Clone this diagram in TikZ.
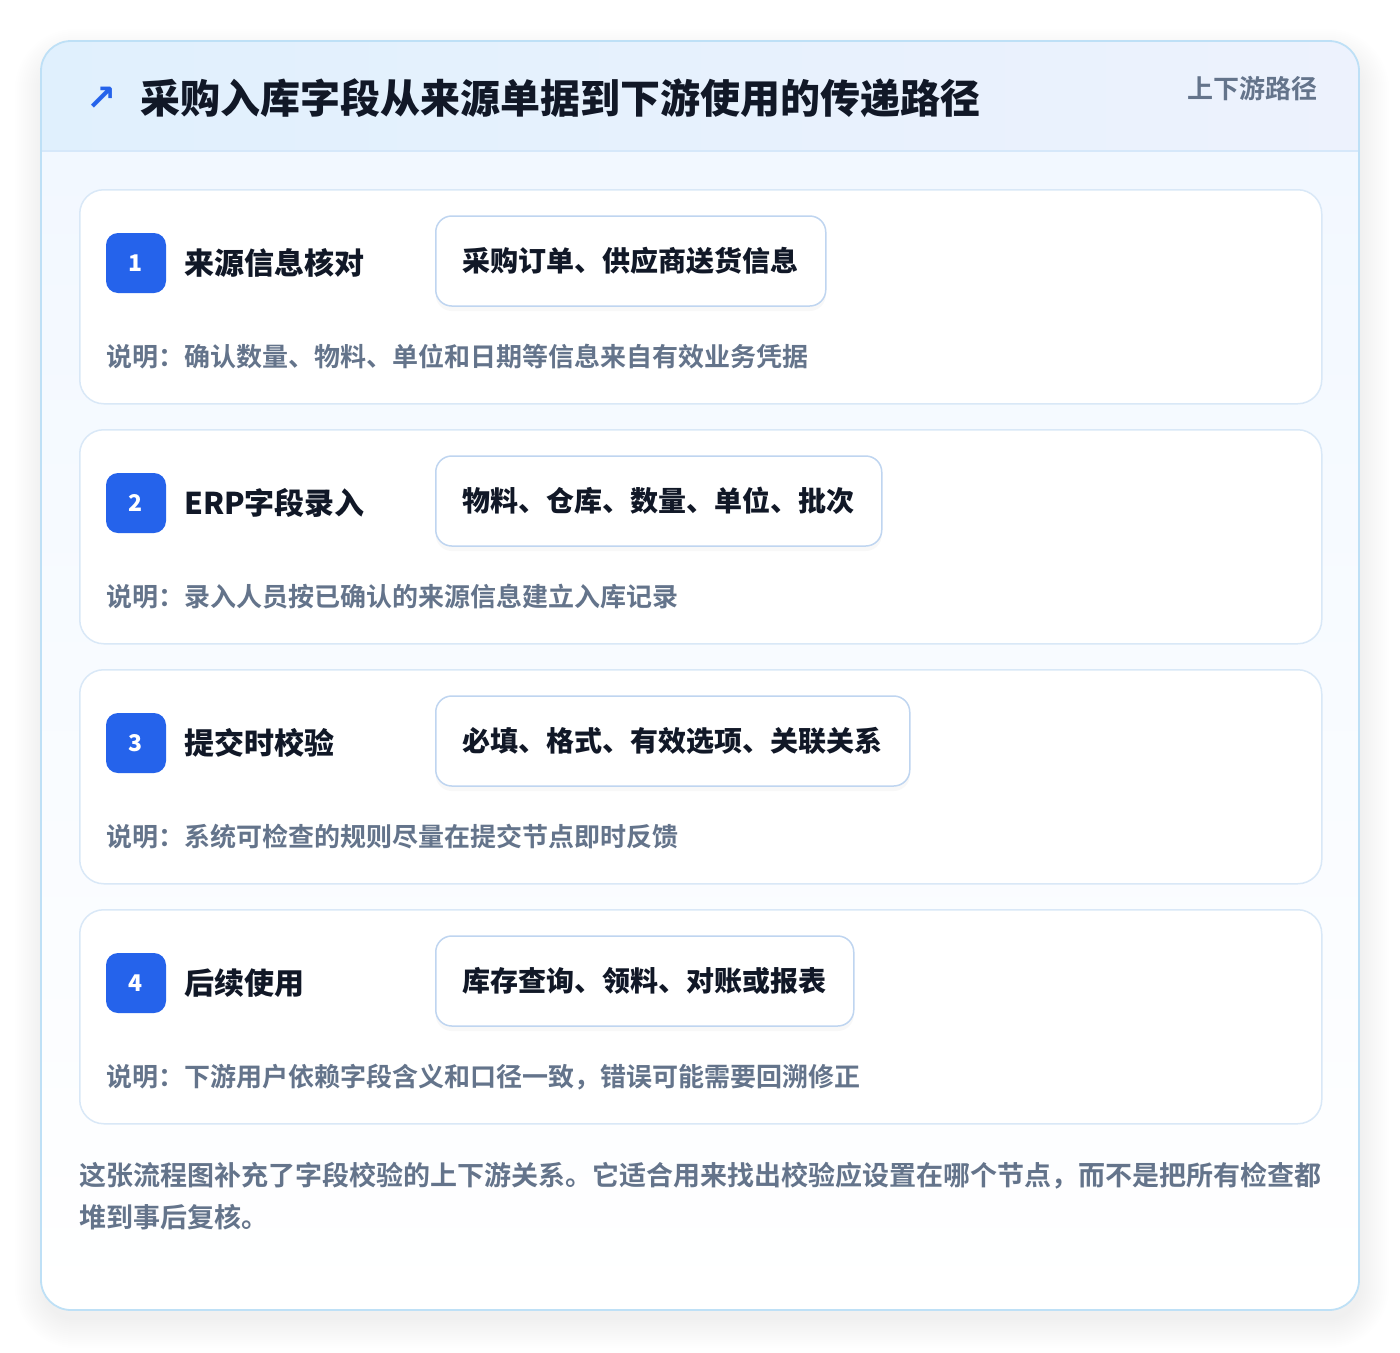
\documentclass[tikz,border=0pt]{standalone}
\usepackage{fontspec}
\setmainfont{Noto Sans CJK SC}[BoldFont={Noto Sans CJK SC Bold}]
\newfontfamily\heavyfont{Noto Sans CJK SC Black}
\newfontfamily\symfont{DejaVu Sans}
\usetikzlibrary{shadows}

\definecolor{brandblue}{HTML}{2563EB}
\definecolor{inkdark}{HTML}{111827}
\definecolor{inkgray}{HTML}{64748B}
\definecolor{edgesky}{HTML}{BEE0F6}
\definecolor{edgecard}{HTML}{D9E8F7}
\definecolor{edgefield}{HTML}{BFD5F0}
\definecolor{headleft}{HTML}{E0F0FD}
\definecolor{headright}{HTML}{EDF2FD}
\definecolor{headrule}{HTML}{D6E8FA}
\definecolor{bodytop}{HTML}{F2F8FF}

\tikzset{
  outercard/.style={draw=edgesky, line width=1.8pt, rounded corners=30pt},
  stepcard/.style={draw=edgecard, line width=1.5pt, fill=white, rounded corners=24pt,
    minimum width=1242pt, minimum height=214pt, anchor=north west, inner sep=0pt},
  badge/.style={fill=brandblue, rounded corners=12pt, minimum width=60pt, minimum height=60pt,
    inner sep=0pt, text=white, font=\heavyfont\fontsize{23}{23}\selectfont},
  steptitle/.style={anchor=west, inner sep=0pt, text=inkdark, font=\heavyfont\fontsize{30}{30}\selectfont},
  fieldbox/.style={anchor=west, draw=edgefield, line width=1.5pt, fill=white, rounded corners=16pt,
    minimum height=90pt, inner xsep=27pt, inner ysep=0pt, text=inkdark,
    font=\heavyfont\fontsize{28}{28}\selectfont,
    drop shadow={opacity=0.05, shadow xshift=0pt, shadow yshift=-5pt}},
  stepnote/.style={anchor=west, inner sep=0pt, text=inkgray, font=\fontsize{26}{26}\selectfont\bfseries},
}

\begin{document}
\begin{tikzpicture}[x=1pt, y=-1pt]
\useasboundingbox (0,0) rectangle (1400,1352);
\fill[white] (0,0) rectangle (1400,1352);
% soft shadow round the card
\foreach \s in {2,4,...,30}
  \fill[black, opacity=0.005, rounded corners=30pt+\s] (41-\s+4,41-\s+18) rectangle (1359+\s,1310+\s+8);
\begin{scope}
\clip[rounded corners=30pt] (41,41) rectangle (1359,1310);
\shade[top color=bodytop, bottom color=white] (41,151) rectangle (1359,1310);
\shade[left color=headleft, right color=headright] (41,41) rectangle (1359,151);
\draw[headrule, line width=1.5pt] (41,151) -- (1359,151);
\end{scope}
\draw[outercard] (41,41) rectangle (1359,1310);
% header
\node (icon) [anchor=center, inner sep=0pt, text=brandblue, font=\symfont\bfseries\fontsize{36}{36}\selectfont] at (102,99) {↗};
\node (heading) [anchor=west, inner sep=0pt, text=inkdark, font=\heavyfont\fontsize{40}{40}\selectfont] at (140,98) {采购入库字段从来源单据到下游使用的传递路径};
\node (tag) [anchor=east, inner sep=0pt, text=inkgray, font=\fontsize{26}{26}\selectfont\bfseries] at (1318,89) {上下游路径};
% steps
\foreach \n/\steplabel/\fieldtext/\notetext in {
  1/{来源信息核对}/{采购订单、供应商送货信息}/{说明：确认数量、物料、单位和日期等信息来自有效业务凭据},
  2/{ERP字段录入}/{物料、仓库、数量、单位、批次}/{说明：录入人员按已确认的来源信息建立入库记录},
  3/{提交时校验}/{必填、格式、有效选项、关联关系}/{说明：系统可检查的规则尽量在提交节点即时反馈},
  4/{后续使用}/{库存查询、领料、对账或报表}/{说明：下游用户依赖字段含义和口径一致，错误可能需要回溯修正}}
{
  \pgfmathsetmacro{\top}{189+240*(\n-1)}
  \node[stepcard] (card\n) at (79,\top) {};
  \node[badge] (badge\n) at (136,\top+74) {\n};
  \node[steptitle] (title\n) at (184,\top+74) {\steplabel};
  \node[fieldbox] (field\n) at (435,\top+72) {\fieldtext};
  \node[stepnote] (note\n) at (106,\top+168) {\notetext};
}
% closing remark
\node (remark) [anchor=west, inner sep=0pt, align=left, text=inkgray, font=\fontsize{27}{42}\selectfont\bfseries] at (79,1196)
  {这张流程图补充了字段校验的上下游关系。它适合用来找出校验应设置在哪个节点，而不是把所有检查都\\堆到事后复核。};
\end{tikzpicture}
\end{document}
